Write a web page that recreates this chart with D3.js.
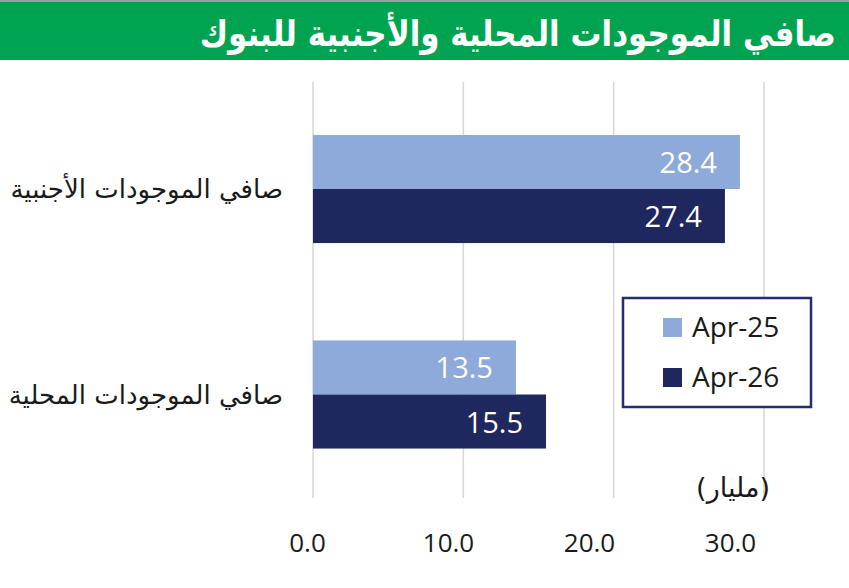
<!DOCTYPE html>
<html>
<head>
<meta charset="utf-8">
<script src="https://cdn.jsdelivr.net/npm/d3@7"></script>
<style>
  body { margin: 0; background: #fff; }
  svg { display: block; }
</style>
</head>
<body>
<div id="chart"></div>
<script>
var categories = ['صافي الموجودات الأجنبية', 'صافي الموجودات المحلية'];
var seriesNames = ['Apr-25', 'Apr-26'];
var apr25 = [28.4, 13.5];
var apr26 = [27.4, 15.5];
var xTicks = [0, 10, 20, 30];
var title = 'صافي الموجودات المحلية والأجنبية للبنوك';
var unitLabel = '(مليار)';

var colors = { 'Apr-25': '#8eaadb', 'Apr-26': '#1f275f' };

var W = 849, H = 588;

var svg = d3.select('#chart').append('svg')
    .attr('width', W)
    .attr('height', H);

svg.append('rect').attr('width', W).attr('height', H).attr('fill', '#fff');

// title bar
svg.append('rect').attr('x', 0).attr('y', 0).attr('width', W).attr('height', 2).attr('fill', '#9d9d9d');
svg.append('rect').attr('x', 0).attr('y', 2).attr('width', W).attr('height', 58).attr('fill', '#00a450');
svg.append('text')
    .attr('transform', 'translate(836,46) scale(0.86,1)')
    .attr('text-anchor', 'end')
    .attr('fill', '#fff')
    .style('font-family', 'DejaVu Sans')
    .style('font-weight', 'bold')
    .style('font-size', '36px')
    .text(title);

// scales
var x = d3.scaleLinear().domain([0, 30]).range([313, 764]);
var xLabel = d3.scaleLinear().domain([0, 30]).range([307, 730]);

var y = d3.scaleBand()
    .domain(categories)
    .range([86.25, 497.25])
    .paddingInner(0.474)
    .paddingOuter(0.237);

var ySub = d3.scaleBand()
    .domain(seriesNames)
    .range([0, y.bandwidth()]);

// gridlines
svg.append('g').selectAll('line')
    .data(xTicks)
    .enter()
    .append('line')
    .attr('x1', d => x(d))
    .attr('x2', d => x(d))
    .attr('y1', 82)
    .attr('y2', 498)
    .attr('stroke', '#d9d6d4')
    .attr('stroke-width', 1.5);

// tick labels
var xAxis = d3.axisBottom(xLabel)
    .tickValues(xTicks)
    .tickSize(0)
    .tickFormat(d3.format('.1f'));

var axisG = svg.append('g')
    .attr('transform', 'translate(0,' + 530 + ')')
    .call(xAxis);
axisG.select('.domain').remove();
axisG.selectAll('text')
    .attr('y', 0)
    .attr('dy', '22px')
    .attr('fill', '#1a1a1a')
    .style('font-family', 'Open Sans')
    .style('font-size', '26px');

// bars
var rows = categories.map((c, i) => ({ cat: c, values: [
    { name: 'Apr-25', value: apr25[i] },
    { name: 'Apr-26', value: apr26[i] }
] }));

var groups = svg.selectAll('.group')
    .data(rows)
    .enter()
    .append('g')
    .attr('class', 'group')
    .attr('transform', d => 'translate(0,' + y(d.cat) + ')');

groups.selectAll('rect')
    .data(d => d.values)
    .enter()
    .append('rect')
    .attr('x', x(0))
    .attr('y', d => ySub(d.name))
    .attr('width', d => x(d.value) - x(0))
    .attr('height', ySub.bandwidth())
    .attr('fill', d => colors[d.name]);

groups.selectAll('.val')
    .data(d => d.values)
    .enter()
    .append('text')
    .attr('class', 'val')
    .attr('x', d => x(d.value) - 23)
    .attr('y', d => ySub(d.name) + ySub.bandwidth() / 2 + 11)
    .attr('text-anchor', 'end')
    .attr('fill', '#fff')
    .style('font-family', 'Open Sans')
    .style('font-size', '29px')
    .text(d => d.value.toFixed(1));

// category labels
svg.selectAll('.cat')
    .data(categories)
    .enter()
    .append('text')
    .attr('class', 'cat')
    .attr('x', 283)
    .attr('y', d => y(d) + y.bandwidth() / 2 + 9)
    .attr('text-anchor', 'end')
    .attr('fill', '#1a1a1a')
    .style('font-family', 'DejaVu Sans')
    .style('font-size', '26px')
    .text(d => d);

// unit label
svg.append('text')
    .attr('x', 770)
    .attr('y', 497)
    .attr('text-anchor', 'end')
    .attr('fill', '#1a1a1a')
    .style('font-family', 'DejaVu Sans')
    .style('font-size', '27px')
    .text(unitLabel);

// legend
var legend = svg.append('g');
legend.append('rect')
    .attr('x', 623)
    .attr('y', 298)
    .attr('width', 188)
    .attr('height', 109)
    .attr('fill', '#fff')
    .attr('stroke', '#252d6c')
    .attr('stroke-width', 2.5);

var items = legend.selectAll('.item')
    .data(seriesNames)
    .enter()
    .append('g')
    .attr('class', 'item')
    .attr('transform', (d, i) => 'translate(663,' + (318 + i * 50) + ')');

items.append('rect')
    .attr('width', 19)
    .attr('height', 19)
    .attr('fill', d => colors[d]);

items.append('text')
    .attr('x', 29)
    .attr('y', 19)
    .attr('fill', '#1a1a1a')
    .style('font-family', 'Open Sans')
    .style('font-size', '28px')
    .text(d => d);
</script>
</body>
</html>
